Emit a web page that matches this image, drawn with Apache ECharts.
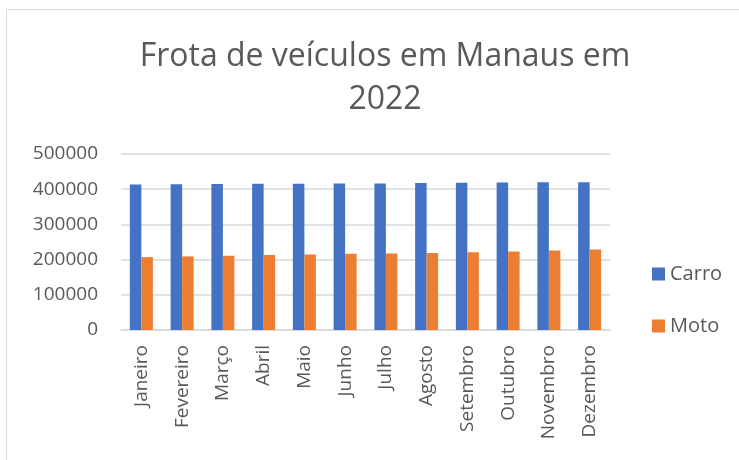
<!DOCTYPE html>
<html>
<head>
<meta charset="utf-8">
<script src="https://cdn.jsdelivr.net/npm/echarts@6/dist/echarts.min.js"></script>
<style>
	html, body { margin: 0; padding: 0; background: #fff; }
	#chart { width: 739px; height: 460px; }
</style>
</head>
<body>
<div id="chart"></div>
<script>
// data
const months = ['Janeiro', 'Fevereiro', 'Março', 'Abril', 'Maio', 'Junho', 'Julho', 'Agosto', 'Setembro', 'Outubro', 'Novembro', 'Dezembro']
const carro = [413000, 414000, 414500, 415500, 415500, 416500, 416500, 417500, 418000, 419000, 419500, 420000]
const moto = [207000, 209000, 211000, 213000, 214500, 216500, 217000, 219000, 221000, 223000, 226000, 229000]
const yTicks = [0, 100000, 200000, 300000, 400000, 500000]

const font = 'Open Sans'
const textColor = '#595959'
const lineColor = '#d9d9d9'

const chart = echarts.init(document.getElementById('chart'))

chart.setOption({
	animation: false,
	textStyle: { fontFamily: font },
	graphic: [
		{
			type: 'rect',
			shape: { x: 6.5, y: 9.5, width: 800, height: 500 },
			style: { fill: 'none', stroke: lineColor, lineWidth: 1 },
			silent: true,
		},
	],
	title: {
		text: 'Frota de veículos em Manaus em\n2022',
		left: 380,
		top: 30,
		textAlign: 'center',
		textStyle: {
			fontFamily: font,
			fontWeight: 'normal',
			fontSize: 32,
			lineHeight: 43,
			color: textColor,
		},
	},
	legend: {
		orient: 'vertical',
		left: 652,
		top: 264,
		icon: 'rect',
		itemWidth: 13,
		itemHeight: 13,
		itemGap: 32,
		itemTextGap: 6,
		padding: 0,
		textStyle: { fontFamily: font, fontSize: 20, color: textColor },
		data: ['Carro', 'Moto'],
	},
	grid: {
		left: 121,
		right: 129,
		top: 154,
		bottom: 130,
		containLabel: false,
	},
	xAxis: {
		type: 'category',
		data: months,
		axisTick: { show: false },
		axisLine: { lineStyle: { color: lineColor, width: 1.5 } },
		axisLabel: {
			rotate: 90,
			margin: 15,
			interval: 0,
			fontFamily: font,
			fontSize: 19,
			color: textColor,
		},
	},
	yAxis: {
		type: 'value',
		min: yTicks[0],
		max: yTicks[yTicks.length - 1],
		interval: yTicks[1] - yTicks[0],
		axisLine: { show: false },
		axisTick: { show: false },
		splitLine: { lineStyle: { color: lineColor, width: 1.5 } },
		axisLabel: {
			margin: 23,
			fontFamily: font,
			fontSize: 19,
			color: textColor,
			formatter: (v) => String(v),
		},
	},
	series: [
		{
			name: 'Carro',
			type: 'bar',
			data: carro,
			barWidth: 11.5,
			barGap: '0%',
			itemStyle: { color: '#4472C4' },
		},
		{
			name: 'Moto',
			type: 'bar',
			data: moto,
			barWidth: 11.5,
			itemStyle: { color: '#ED7D31' },
		},
	],
})
</script>
</body>
</html>
